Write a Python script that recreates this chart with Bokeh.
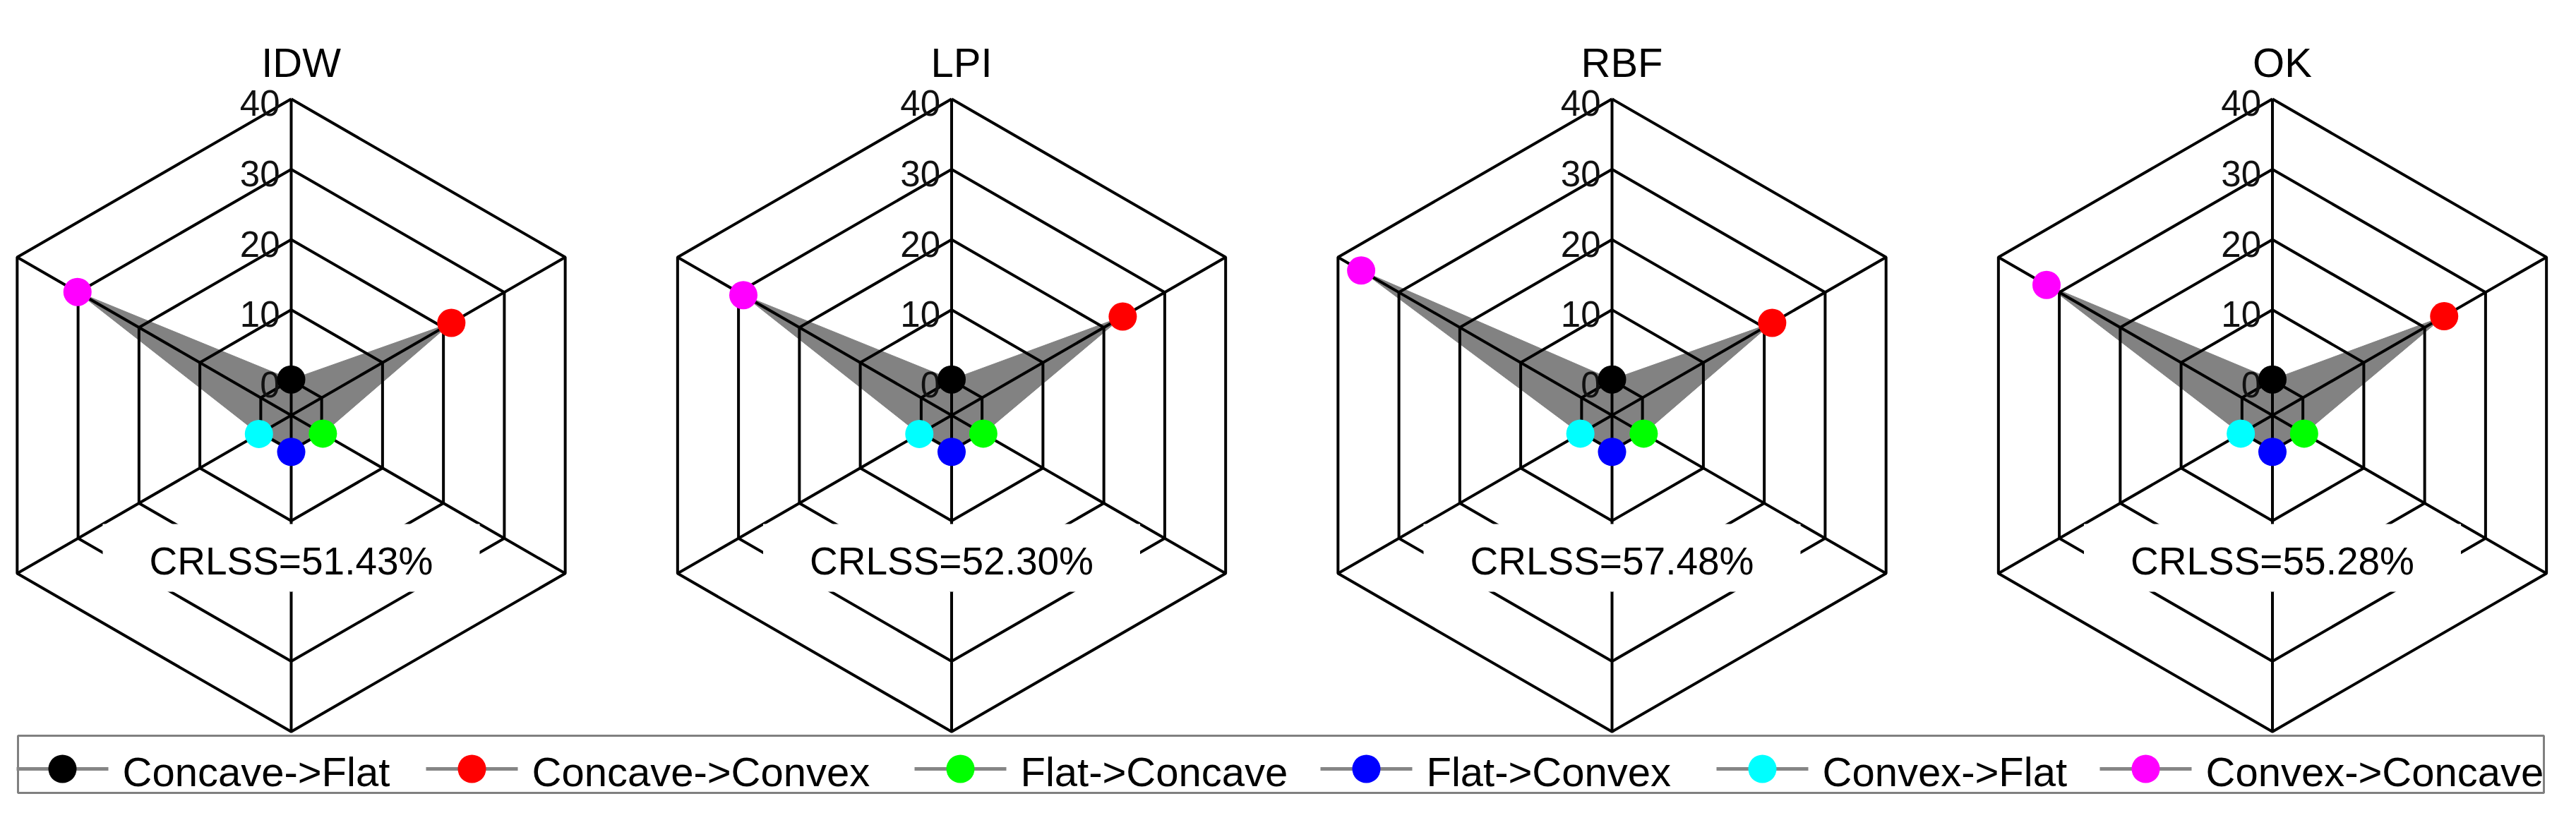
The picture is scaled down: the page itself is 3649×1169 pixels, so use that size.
import numpy as np
from bokeh.plotting import figure
from bokeh.models import Range1d
from bokeh.core.properties import value
from bokeh.embed import file_html
from bokeh.resources import INLINE

# ---------------- data ----------------
categories = ["Concave->Flat", "Concave->Convex", "Flat->Concave",
              "Flat->Convex", "Convex->Flat", "Convex->Concave"]
colors = ["#000000", "#ff0000", "#00ff00", "#0000ff", "#00ffff", "#ff00ff"]
methods = ["IDW", "LPI", "RBF", "OK"]
idw_values = [0.1, 21.3, 0.2, 0.2, 0.3, 30.1]
lpi_values = [0.1, 23.1, 0.2, 0.2, 0.3, 29.2]
rbf_values = [0.1, 21.3, 0.2, 0.2, 0.2, 36.2]
ok_values = [0.1, 23.2, 0.2, 0.2, 0.2, 32.1]
crlss_labels = ["CRLSS=51.43%", "CRLSS=52.30%", "CRLSS=57.48%", "CRLSS=55.28%"]
radial_ticks = [0, 10, 20, 30, 40]
radial_min = -5

all_values = [idw_values, lpi_values, rbf_values, ok_values]

# ---------------- layout (page pixels) ----------------
W, H = 3633, 1153
CX = [420, 1355.5, 2291, 3226.5]
CY = 596
K = 9.96           # pixels per radial unit
FONT = value("Liberation Sans")

p = figure(width=W, height=H, x_range=Range1d(8, 8 + W), y_range=Range1d(8 + H, 8),
           output_backend="svg", toolbar_location=None,
           x_axis_location=None, y_axis_location=None, min_border=0,
           outline_line_color=None, background_fill_color="white",
           border_fill_color="white")
p.grid.grid_line_color = None

angles = np.deg2rad(np.arange(len(categories)) * 60.0)


def polar(cx, r, th):
    return cx + r * np.sin(th), CY - r * np.cos(th)


# data polygons
pxs, pys = [], []
for cx, vals in zip(CX, all_values):
    r = (np.array(vals) - radial_min) * K
    x, y = polar(cx, r, angles)
    pxs.append(list(x))
    pys.append(list(y))
p.patches(pxs, pys, fill_color="#828282", fill_alpha=1.0, line_color="#828282", line_width=1)

# grid rings and spokes
rxs, rys = [], []
sx0, sy0, sx1, sy1 = [], [], [], []
rmax = (radial_ticks[-1] - radial_min) * K
closed = np.append(angles, angles[0])
for cx in CX:
    for t in radial_ticks:
        r = (t - radial_min) * K
        x, y = polar(cx, r, closed)
        rxs.append(list(x))
        rys.append(list(y))
    ox, oy = polar(cx, rmax, angles)
    sx0 += [cx] * len(angles)
    sy0 += [CY] * len(angles)
    sx1 += list(ox)
    sy1 += list(oy)
p.multi_line(rxs, rys, line_color="black", line_width=4)
p.segment(sx0, sy0, sx1, sy1, line_color="black", line_width=4)

# CRLSS labels with white background
p.quad(left=[c - 267 for c in CX], right=[c + 267 for c in CX],
       top=[750] * 4, bottom=[846] * 4, fill_color="white", line_color=None)
p.text(x=CX, y=[802] * 4, text=crlss_labels, text_font=FONT, text_font_size="55px",
       text_align="center", text_baseline="middle", text_color="black")

# radial tick labels
tx, ty, tt = [], [], []
for cx in CX:
    for t in radial_ticks:
        r = (t - radial_min) * K
        tx.append(cx - 16)
        ty.append(CY - r + 6)
        tt.append(str(t))
p.text(x=tx, y=ty, text=tt, text_font=FONT, text_font_size="51px",
       text_align="right", text_baseline="middle", text_color="#111111")

# titles
p.text(x=[c + 14 for c in CX], y=[96] * 4, text=methods, text_font=FONT,
       text_font_size="58px", text_align="center", text_baseline="middle",
       text_color="black")

# data points
for cx, vals in zip(CX, all_values):
    r = (np.array(vals) - radial_min) * K
    x, y = polar(cx, r, angles)
    p.scatter(list(x), list(y), size=40, fill_color=colors, line_color=None)

# legend
LY = 1097
legend_text_x = [181, 761, 1453, 2028, 2589, 3132]
p.quad(left=[33], right=[3611], top=[1050], bottom=[1131], fill_color="white",
       line_color="#808080", line_width=3)
dot_x = [tx_ - 85 for tx_ in legend_text_x]
p.segment([d - 65 for d in dot_x], [LY] * 6, [d + 65 for d in dot_x], [LY] * 6,
          line_color="#858585", line_width=5)
p.scatter(dot_x, [LY] * 6, size=40, fill_color=colors, line_color=None)
p.text(x=legend_text_x, y=[LY + 4] * 6, text=categories, text_font=FONT,
       text_font_size="58px", text_align="left", text_baseline="middle",
       text_color="black")

open("out.html", "w").write(file_html(p, INLINE))
